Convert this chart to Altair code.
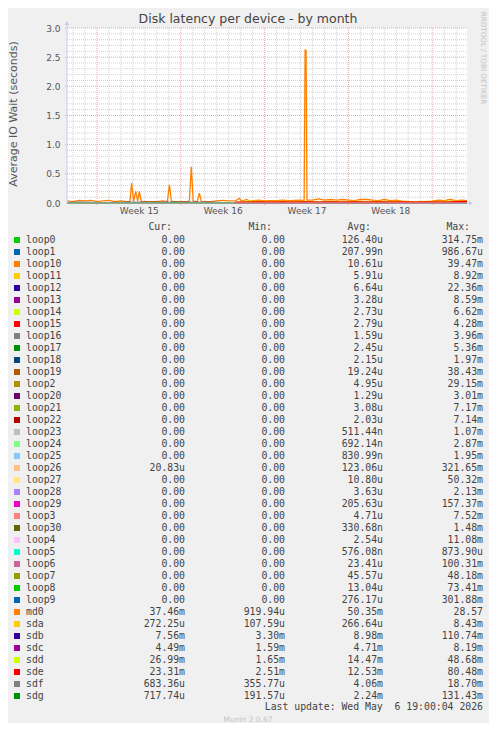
import altair as alt
import pandas as pd

# ---------------- texts ----------------
TITLE = "Disk latency per device - by month"
Y_TITLE = "Average IO Wait (seconds)"
WATERMARK = "RRDTOOL / TOBI OETIKER"
FOOTER = "Munin 2.0.67"
LAST_UPDATE = "Last update: Wed May\u00a0 6 19:00:04 2026"
HEADERS = ["Cur:", "Min:", "Avg:", "Max:"]

# ---------------- legend table ----------------
names = ["loop0", "loop1", "loop10", "loop11", "loop12", "loop13", "loop14", "loop15",
         "loop16", "loop17", "loop18", "loop19", "loop2", "loop20", "loop21", "loop22",
         "loop23", "loop24", "loop25", "loop26", "loop27", "loop28", "loop29", "loop3",
         "loop30", "loop4", "loop5", "loop6", "loop7", "loop8", "loop9", "md0", "sda",
         "sdb", "sdc", "sdd", "sde", "sdf", "sdg"]
colors = ["#00CC00", "#0066B3", "#FF8000", "#FFCC00", "#330099", "#990099", "#CCFF00",
          "#FF0000", "#808080", "#008F00", "#00487D", "#B35A00", "#B38F00", "#6B006B",
          "#8FB300", "#B30000", "#BEBEBE", "#80FF80", "#80C9FF", "#FFC080", "#FFE680",
          "#AA80FF", "#EE00CC", "#FF8080", "#666600", "#FFBFFF", "#00FFCC", "#CC6699",
          "#999900", "#00CC00", "#0066B3", "#FF8000", "#FFCC00", "#330099", "#990099",
          "#CCFF00", "#FF0000", "#808080", "#008F00"]
cur = ["0.00"] * 19 + ["20.83u"] + ["0.00"] * 11 + ["37.46m", "272.25u", "7.56m", "4.49m",
                                                   "26.99m", "23.31m", "683.36u", "717.74u"]
mins = ["0.00"] * 31 + ["919.94u", "107.59u", "3.30m", "1.59m", "1.65m", "2.51m",
                        "355.77u", "191.57u"]
avgs = ["126.40u", "207.99n", "10.61u", "5.91u", "6.64u", "3.28u", "2.73u", "2.79u",
        "1.59u", "2.45u", "2.15u", "19.24u", "4.95u", "1.29u", "3.08u", "2.03u",
        "511.44n", "692.14n", "830.99n", "123.06u", "10.80u", "3.63u", "205.63u", "4.71u",
        "330.68n", "2.54u", "576.08n", "23.41u", "45.57u", "13.04u", "276.17u", "50.35m",
        "266.64u", "8.98m", "4.71m", "14.47m", "12.53m", "4.06m", "2.24m"]
maxs = ["314.75m", "986.67u", "39.47m", "8.92m", "22.36m", "8.59m", "6.62m", "4.28m",
        "3.96m", "5.36m", "1.97m", "38.43m", "29.15m", "3.01m", "7.17m", "7.14m",
        "1.07m", "2.87m", "1.95m", "321.65m", "50.32m", "2.13m", "157.37m", "7.52m",
        "1.48m", "11.08m", "873.90u", "100.31m", "48.18m", "73.41m", "301.88m", "28.57",
        "8.43m", "110.74m", "8.19m", "48.68m", "80.48m", "18.70m", "131.43m"]

# ---------------- axis ticks (days since Monday of week 15) ----------------
x_domain = [-2.5, 30.9]
week_label_days = [3.5, 10.5, 17.5, 24.5]
week_labels = ["Week 15", "Week 16", "Week 17", "Week 18"]
week_major = [0, 7, 14, 21, 28]
day_minor = [-2, -1, 1, 2, 3, 4, 5, 6, 8, 9, 10, 11, 12, 13, 15, 16, 17, 18, 19, 20,
             22, 23, 24, 25, 26, 27, 29, 30]
y_ticks = [0.0, 0.5, 1.0, 1.5, 2.0, 2.5, 3.0]
y_minor = [0.1, 0.2, 0.3, 0.4, 0.6, 0.7, 0.8, 0.9, 1.1, 1.2, 1.3, 1.4, 1.6, 1.7, 1.8,
           1.9, 2.1, 2.2, 2.3, 2.4, 2.6, 2.7, 2.8, 2.9]

# ---------------- series ----------------
md0_points = [(-2.5, 0.035), (-2.0, 0.025), (-1.5, 0.045), (-1.0, 0.035), (-0.5, 0.045),
              (0.0, 0.025), (0.5, 0.035), (1.0, 0.045), (1.5, 0.025), (2.0, 0.035),
              (2.5, 0.025), (2.75, 0.025), (2.90, 0.34), (3.06, 0.03), (3.24, 0.20),
              (3.40, 0.03), (3.54, 0.20), (3.70, 0.025), (4.0, 0.025), (4.5, 0.025),
              (5.0, 0.025), (5.5, 0.035), (5.88, 0.025), (6.05, 0.31), (6.22, 0.03),
              (6.5, 0.025), (7.0, 0.025), (7.5, 0.025), (7.72, 0.03), (7.88, 0.62),
              (8.04, 0.03), (8.38, 0.025), (8.55, 0.17), (8.72, 0.025), (9.0, 0.025),
              (9.5, 0.025), (10.0, 0.035), (10.5, 0.045), (11.0, 0.035), (11.6, 0.04),
              (11.87, 0.08), (12.1, 0.03), (12.5, 0.06), (12.8, 0.03), (13.0, 0.04),
              (13.5, 0.05), (14.0, 0.035), (14.5, 0.04), (15.0, 0.04), (15.5, 0.05),
              (16.0, 0.04), (16.5, 0.045), (17.0, 0.05), (17.3, 0.04), (17.38, 2.62),
              (17.46, 2.62), (17.54, 0.05), (18.0, 0.05), (18.5, 0.07), (19.0, 0.05),
              (19.5, 0.06), (20.0, 0.05), (20.5, 0.06), (21.0, 0.05), (21.5, 0.04),
              (22.0, 0.06), (22.5, 0.06), (23.0, 0.05), (23.5, 0.04), (24.0, 0.06),
              (24.5, 0.04), (25.0, 0.05), (25.5, 0.03), (26.0, 0.022), (26.5, 0.022),
              (27.0, 0.022), (27.5, 0.022), (28.0, 0.03), (28.5, 0.05), (29.0, 0.04),
              (29.5, 0.06), (30.0, 0.04), (30.5, 0.05), (30.9, 0.04)]

sd_days = [-2.5 + k for k in range(33)] + [30.9]
sda = [0.0003, 0.0002, 0.0003, 0.0003, 0.0002, 0.0003, 0.0003, 0.0002, 0.0003, 0.0003,
       0.0002, 0.0003, 0.0003, 0.0002, 0.0003, 0.0003, 0.0002, 0.0003, 0.0003, 0.0002,
       0.0003, 0.0003, 0.0002, 0.0003, 0.0003, 0.0002, 0.0003, 0.0003, 0.0002, 0.0003,
       0.0003, 0.0002, 0.0003, 0.0003]
sdb = [0.008, 0.010, 0.004, 0.003, 0.006, 0.010, 0.011, 0.010, 0.010, 0.009, 0.010,
       0.011, 0.009, 0.006, 0.007, 0.006, 0.005, 0.006, 0.005, 0.006, 0.005, 0.006,
       0.005, 0.006, 0.005, 0.006, 0.005, 0.006, 0.005, 0.006, 0.005, 0.006, 0.005, 0.008]
sdc = [0.004, 0.005, 0.004, 0.005, 0.004, 0.005, 0.004, 0.005, 0.004, 0.005, 0.004,
       0.005, 0.004, 0.005, 0.004, 0.005, 0.004, 0.005, 0.004, 0.005, 0.004, 0.005,
       0.004, 0.005, 0.004, 0.005, 0.004, 0.005, 0.004, 0.005, 0.004, 0.005, 0.004, 0.004]
sdd = [0.002, 0.002, 0.002, 0.002, 0.002, 0.002, 0.002, 0.002, 0.002, 0.002, 0.002,
       0.002, 0.002, 0.002, 0.004, 0.030, 0.026, 0.025, 0.026, 0.025, 0.026, 0.025,
       0.026, 0.025, 0.026, 0.025, 0.026, 0.025, 0.026, 0.025, 0.026, 0.025, 0.026, 0.027]
sde = [0.002, 0.002, 0.002, 0.002, 0.010, 0.002, 0.002, 0.002, 0.002, 0.002, 0.002,
       0.002, 0.002, 0.002, 0.008, 0.010, 0.011, 0.010, 0.011, 0.010, 0.011, 0.010,
       0.011, 0.010, 0.011, 0.010, 0.011, 0.010, 0.011, 0.010, 0.011, 0.010, 0.011, 0.020]
sdf = [0.004, 0.012, 0.010, 0.004, 0.003, 0.004, 0.003, 0.004, 0.003, 0.004, 0.003,
       0.004, 0.003, 0.004, 0.004, 0.004, 0.004, 0.003, 0.004, 0.005, 0.004, 0.003,
       0.004, 0.004, 0.005, 0.004, 0.003, 0.004, 0.005, 0.004, 0.004, 0.003, 0.004, 0.004]
sdg = [0.002, 0.002, 0.001, 0.002, 0.002, 0.002, 0.002, 0.002, 0.003, 0.012, 0.006,
       0.002, 0.002, 0.002, 0.002, 0.002, 0.002, 0.002, 0.002, 0.002, 0.002, 0.002,
       0.002, 0.002, 0.002, 0.002, 0.002, 0.002, 0.002, 0.002, 0.002, 0.002, 0.002, 0.002]

# ---------------- build tables ----------------
rows = [{"series": "md0", "day": d, "value": v} for d, v in md0_points]
for sname, vals in [("sda", sda), ("sdb", sdb), ("sdc", sdc), ("sdd", sdd),
                    ("sde", sde), ("sdf", sdf), ("sdg", sdg)]:
    rows += [{"series": sname, "day": d, "value": v} for d, v in zip(sd_days, vals)]
lines_df = pd.DataFrame(rows)
color_of = dict(zip(names, colors))


def pad(s):
    return s if s[-1].isalpha() else s + "\u00a0"


legend_df = pd.DataFrame({
    "name": names,
    "cur": [pad(s) for s in cur],
    "min": [pad(s) for s in mins],
    "avg": [pad(s) for s in avgs],
    "max": [pad(s) for s in maxs],
    "row": list(range(len(names))),
})

# ---------------- styling ----------------
W, H = 400, 175
SANS = "DejaVu Sans"
MONO = "DejaVu Sans Mono"
AXIS_COLOR = "#c4cbee"
MINOR_GRID = "#d2d2d2"
MAJOR_GRID = "#eea4a4"
TXT = "#444444"

label_expr = "[" + ",".join("'%s'" % s for s in week_labels) + "][indexof([" + \
    ",".join(str(v) for v in week_label_days) + "], datum.value)]"

x_scale = alt.Scale(domain=x_domain, nice=False, zero=False)
y_scale = alt.Scale(domain=[0, 3], nice=False)
x_axis = alt.Axis(values=week_label_days, labelExpr=label_expr, ticks=False,
                  domain=False, grid=False, labelFont=SANS, labelFontSize=9,
                  labelColor="#555555", labelPadding=3, title=None)
y_axis = alt.Axis(values=y_ticks, format=".1f", ticks=False, domain=False, grid=False,
                  labelFont=SANS, labelFontSize=9, labelColor="#555555",
                  labelPadding=7, title=None)
X = alt.X("day:Q", scale=x_scale, axis=x_axis)
Y = alt.Y("value:Q", scale=y_scale, axis=y_axis)

one = pd.DataFrame({"k": [0]})

minor_v = alt.Chart(pd.DataFrame({"day": day_minor})).mark_rule(
    color=MINOR_GRID, strokeDash=[1, 1], strokeWidth=1).encode(
    x=X, y=alt.value(0), y2=alt.value(H))
minor_h = alt.Chart(pd.DataFrame({"value": y_minor})).mark_rule(
    color=MINOR_GRID, strokeDash=[1, 1], strokeWidth=1).encode(
    y=Y, x=alt.value(0), x2=alt.value(W))
major_v = alt.Chart(pd.DataFrame({"day": week_major})).mark_rule(
    color=MAJOR_GRID, strokeDash=[1, 1], strokeWidth=1).encode(
    x=X, y=alt.value(0), y2=alt.value(H + 3))
major_h = alt.Chart(pd.DataFrame({"value": y_ticks[1:]})).mark_rule(
    color=MAJOR_GRID, strokeDash=[1, 1], strokeWidth=1).encode(
    y=Y, x=alt.value(-2), x2=alt.value(W))


def series_line(sname, width=1.3, day_min=None):
    ch = alt.Chart(lines_df).transform_filter(alt.datum.series == sname)
    if day_min is not None:
        ch = ch.transform_filter(alt.datum.day >= day_min)
    return ch.mark_line(color=color_of[sname], strokeWidth=width).encode(x=X, y=Y)


# drawn in Munin's legend order; the later-half sde segment sits on top, as in the image
series_layers = [series_line(s) for s in
                 ["md0", "sda", "sdb", "sdc", "sdd", "sde", "sdf", "sdg"]]
series_layers.append(series_line("sde", width=2, day_min=11.5))

y_axis_line = alt.Chart(one).mark_rule(color=AXIS_COLOR, strokeWidth=1).encode(
    x=alt.value(0), y=alt.value(-4), y2=alt.value(H))
x_axis_line = alt.Chart(one).mark_rule(color=AXIS_COLOR, strokeWidth=1).encode(
    x=alt.value(0), x2=alt.value(W + 3), y=alt.value(H))
y_arrow = alt.Chart(one).mark_point(shape="triangle-up", filled=True, size=22,
                                    color=AXIS_COLOR, opacity=1).encode(
    x=alt.value(0), y=alt.value(-5))
x_arrow = alt.Chart(one).mark_point(shape="triangle-right", filled=True, size=22,
                                    color=AXIS_COLOR, opacity=1).encode(
    x=alt.value(W + 4), y=alt.value(H))

main = alt.layer(minor_v, minor_h, major_v, major_h, *series_layers,
                 y_axis_line, x_axis_line, y_arrow, x_arrow)


def label(text, x, y, size, color, font=SANS, align="center", angle=0,
          baseline="middle"):
    return alt.Chart(pd.DataFrame({"t": [text]})).mark_text(
        font=font, fontSize=size, color=color, align=align, angle=angle,
        baseline=baseline).encode(text="t:N", x=alt.value(x), y=alt.value(y))


title = label(TITLE, 181, -9, 12.5, TXT)
ytitle = label(Y_TITLE, -53, 86, 11, "#555555", angle=270)
watermark = label(WATERMARK, 416, 30, 7.2, "#c4c4c4", angle=90)
footer = label(FOOTER, 181, 692, 7.5, "#c4c4c4")
last_upd = label(LAST_UPDATE, 416, 679, 9.8, TXT, font=MONO, align="right")
header_x = [105, 205, 304, 403]
headers = [label(h, hx, 199, 9.8, TXT, font=MONO, align="right")
           for h, hx in zip(HEADERS, header_x)]

ROW = alt.Y("row:Q", scale=alt.Scale(domain=[0, len(names) - 1],
                                      range=[212, 212 + 12 * (len(names) - 1)]),
            axis=None)
swatch = alt.Chart(legend_df).mark_square(size=36, opacity=1).encode(
    x=alt.value(-50), y=ROW,
    color=alt.Color("name:N", scale=alt.Scale(domain=names, range=colors), legend=None))
name_txt = alt.Chart(legend_df).mark_text(
    font=MONO, fontSize=9.8, color=TXT, align="left", baseline="middle").encode(
    text="name:N", x=alt.value(-41), y=ROW)
value_cols = []
for col, xe in zip(["cur", "min", "avg", "max"], [118, 218, 316, 416]):
    value_cols.append(alt.Chart(legend_df).mark_text(
        font=MONO, fontSize=9.8, color=TXT, align="right", baseline="middle").encode(
        text=f"{col}:N", x=alt.value(xe), y=ROW))

chart = alt.layer(
    main, swatch, name_txt, *value_cols, *headers, title, ytitle, watermark, footer,
    last_upd
).resolve_scale(y="independent").properties(
    width=W, height=H,
    autosize=alt.AutoSizeParams(type="none"),
    padding={"left": 59, "top": 20, "right": 22, "bottom": 520},
).configure(background="#F0F0F0").configure_view(stroke=None, fill="white")

chart.save("out.html", embed_options={"renderer": "svg", "actions": False})
